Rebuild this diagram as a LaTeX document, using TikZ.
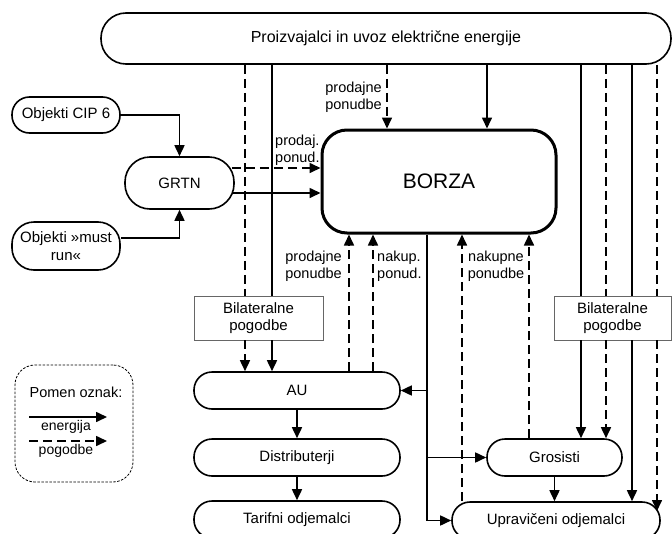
\documentclass[tikz,border=0pt]{standalone}
\usepackage{fontspec}
\setmainfont{Liberation Sans}
\usetikzlibrary{arrows.meta}
\begin{document}
\begin{tikzpicture}[x=1pt,y=-1pt,
  pill/.style={draw, line width=1.6pt, inner sep=0pt, align=center,
    font=\fontsize{15}{18}\selectfont},
  bilbox/.style={draw=black!60, line width=0.8pt, inner sep=0pt, align=center,
    minimum height=44pt, font=\fontsize{15}{17}\selectfont},
  lbl/.style={inner sep=0pt, font=\fontsize{14.5}{17.5}\selectfont},
  en/.style={line width=1.6pt},
  pog/.style={line width=1.6pt, dash pattern=on 9pt off 5pt},
  arr/.style={-{Triangle[length=11pt,width=10pt]}},
  legendbox/.style={draw, line width=0.8pt, dash pattern=on 2.5pt off 1.5pt,
    rounded corners=20pt, minimum width=118pt, minimum height=117pt}]
\useasboundingbox (0,0) rectangle (672,533);
\clip (0,0) rectangle (672,533);

% --- boxes ---
\node[pill, minimum width=570pt, minimum height=51pt, rounded corners=25pt,
  font=\fontsize{16}{19}\selectfont] (top) at (386,38.5)
  {Proizvajalci in uvoz električne energije};
\node[pill, minimum width=108pt, minimum height=36pt, rounded corners=17.5pt]
  (cip) at (66,115) {Objekti CIP 6};
\node[pill, minimum width=108pt, minimum height=48pt, rounded corners=22pt]
  (must) at (66,246) {Objekti »must\\run«};
\node[pill, minimum width=109pt, minimum height=52pt, rounded corners=25pt]
  (grtn) at (179.5,183) {GRTN};
\node[pill, line width=3pt, minimum width=234pt, minimum height=103pt,
  rounded corners=25pt, font=\fontsize{21}{24}\selectfont]
  (borza) at (439,181.5) {BORZA};
\node[bilbox, minimum width=129pt] (bil1) at (258.5,318) {Bilateralne\\pogodbe};
\node[bilbox, minimum width=117pt] (bil2) at (612.5,318) {Bilateralne\\pogodbe};
\node[pill, minimum width=206pt, minimum height=37pt, rounded corners=18pt]
  (au) at (297,390.5) {AU};
\node[pill, minimum width=206pt, minimum height=37pt, rounded corners=18pt]
  (dist) at (297,457.5) {Distributerji};
\node[pill, minimum width=206pt, minimum height=37pt, rounded corners=18pt]
  (tarif) at (297,519.5) {Tarifni odjemalci};
\node[pill, minimum width=135pt, minimum height=37pt, rounded corners=18pt]
  (gros) at (554.5,457.5) {Grosisti};
\node[pill, minimum width=208pt, minimum height=37pt, rounded corners=18pt]
  (uprav) at (556,520.5) {Upravičeni odjemalci};

% --- feeds from the producers ---
\draw[pog] (245,0 |- top.south) -- (245,0 |- bil1.north);
\draw[pog,arr] (245,0 |- bil1.south) -- (245,0 |- au.north);
\draw[en] (272,0 |- top.south) -- (272,0 |- bil1.north);
\draw[en,arr] (272,0 |- bil1.south) -- (272,0 |- au.north);
\draw[pog,arr] (387,0 |- top.south) -- (387,0 |- borza.north);
\draw[en,arr] (487,0 |- top.south) -- (487,0 |- borza.north);
\draw[en] (581,0 |- top.south) -- (581,0 |- bil2.north);
\draw[en,arr] (581,0 |- bil2.south) -- (581,0 |- gros.north);
\draw[pog] (606,0 |- top.south) -- (606,0 |- bil2.north);
\draw[pog,arr] (606,0 |- bil2.south) -- (606,0 |- gros.north);
\draw[en] (632,0 |- top.south) -- (632,0 |- bil2.north);
\draw[en,arr] (632,0 |- bil2.south) -- (632,0 |- uprav.north);
\coordinate (upravR) at (657,511);
\draw[pog] (657,0 |- top.south) -- (657,0 |- bil2.north);
\draw[pog,arr] (657,0 |- bil2.south) -- (upravR);

% --- GRTN ---
\draw[en,arr] (cip.east) -| (grtn.north);
\draw[en,arr] ([yshift=8pt]must.east) -| (grtn.south);
\coordinate (gd) at ([xshift=-3pt,yshift=15pt]grtn.east);
\coordinate (ge) at ([xshift=-2pt,yshift=-10pt]grtn.east);
\draw[pog,arr] (gd) -- (gd -| borza.west);
\draw[en,arr] (ge) -- (ge -| borza.west);

% --- below the exchange ---
\draw[pog,arr] (349,0 |- au.north) -- (349,0 |- borza.south);
\draw[pog,arr] (373,0 |- au.north) -- (373,0 |- borza.south);
\draw[en,arr] (427,0 |- borza.south) |- (uprav.west);
\draw[en,arr] (427,0 |- au.east) -- (au.east);
\draw[en,arr] (427,0 |- gros.west) -- (gros.west);
\draw[pog,arr] (462,0 |- uprav.north) -- (462,0 |- borza.south);
\draw[pog,arr] (529,0 |- gros.north) -- (529,0 |- borza.south);
\draw[en,arr] (gros.south) -- (gros.south |- uprav.north);
\draw[en,arr] (au.south) -- (dist.north);
\draw[en,arr] (dist.south) -- (tarif.north);

% --- connector labels ---
\node[lbl, anchor=east, align=right] (lpt) at (382,97) {prodajne\\ponudbe};
\node[lbl, anchor=west, align=left] (lpg) at (275,150) {prodaj.\\ponud.};
\node[lbl, anchor=east, align=right] (lpb) at (342,266) {prodajne\\ponudbe};
\node[lbl, anchor=west, align=left] (lnk) at (377,266) {nakup.\\ponud.};
\node[lbl, align=center] (lnp) at (496,266) {nakupne\\ponudbe};

% --- legend ---
\node[legendbox] (leg) at (74,423.5) {};
\node[lbl, font=\fontsize{14.5}{17}\selectfont] (legt) at (76,392) {Pomen oznak:};
\coordinate (l1a) at (29,417);
\coordinate (l1b) at (107,417);
\draw[en,arr] (l1a) -- (l1b);
\node[lbl, font=\fontsize{14}{17}\selectfont] (lege) at (66,427) {energija};
\coordinate (l2a) at (29,441);
\coordinate (l2b) at (107,441);
\draw[pog,arr] (l2a) -- (l2b);
\node[lbl, font=\fontsize{14}{17}\selectfont] (legp) at (66,451) {pogodbe};
\end{tikzpicture}
\end{document}
